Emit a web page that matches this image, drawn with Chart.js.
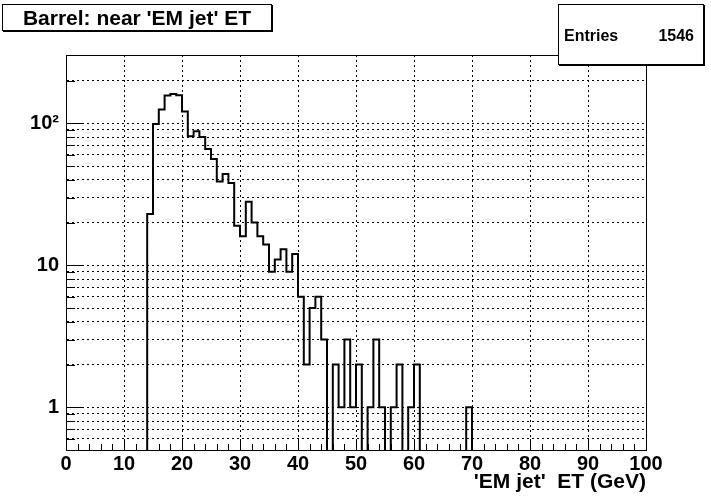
<!DOCTYPE html>
<html>
<head>
<meta charset="utf-8">
<title>Barrel: near 'EM jet' ET</title>
<script src="https://cdn.jsdelivr.net/npm/chart.js@4.4.1/dist/chart.umd.min.js"></script>
<style>
    body { margin: 0; background: #fff; }
    #wrap { position: relative; width: 711px; height: 500px; }
    #histo { display: block; }
    .pave {
        position: absolute;
        background: #fff;
        border: 1px solid #000;
        box-shadow: 1px 1px 0 #000;
        font-family: 'Liberation Sans', Arial, sans-serif;
        font-weight: bold;
        color: #000;
        box-sizing: border-box;
    }
    #title { left: 2px; top: 4px; width: 270px; height: 27px; font-size: 21px; line-height: 25px; text-align: center; }
    #stats { left: 558px; top: 4px; width: 146px; height: 61px; font-size: 16px; }
    #stats span { position: absolute; top: 22px; }
</style>
</head>
<body>
<div id="wrap">
    <canvas id="histo" width="711" height="500"></canvas>
    <div class="pave" id="title">Barrel: near 'EM jet' ET</div>
    <div class="pave" id="stats"><span style="left:5px">Entries</span><span style="right:9px">1546</span></div>
</div>
<script>
// histogram binning
const xMin = 0;
const xMax = 100;
const binWidth = 1;

// bin contents, one per 1 GeV bin from 0 to 100
const counts = [
    0, 0, 0, 0, 0, 0, 0, 0, 0, 0,
    0, 0, 0, 0, 23, 99, 125, 157, 161, 158,
    121, 81, 88, 80, 66, 56, 39, 44, 38, 19,
    16, 28, 20, 16, 14, 9, 11, 13, 9, 12,
    6, 2, 5, 6, 3, 0, 2, 1, 3, 1,
    2, 0, 1, 3, 1, 0, 1, 2, 0, 1,
    2, 0, 0, 0, 0, 0, 0, 0, 0, 1,
    0, 0, 0, 0, 0, 0, 0, 0, 0, 0,
    0, 0, 0, 0, 0, 0, 0, 0, 0, 0,
    0, 0, 0, 0, 0, 0, 0, 0, 0, 0
];

// axis ranges and ticks
const yMin = 0.5;
const yMax = 303;
const xMajorTicks = [0, 10, 20, 30, 40, 50, 60, 70, 80, 90, 100];
const xMinorTicks = [2, 4, 6, 8, 12, 14, 16, 18, 22, 24, 26, 28, 32, 34, 36, 38, 42, 44, 46, 48,
    52, 54, 56, 58, 62, 64, 66, 68, 72, 74, 76, 78, 82, 84, 86, 88, 92, 94, 96, 98];
const yTickValues = [0.6, 0.7, 0.8, 0.9, 1, 2, 3, 4, 5, 6, 7, 8, 9,
    10, 20, 30, 40, 50, 60, 70, 80, 90, 100, 200];
const yMajorTicks = [1, 10, 100];
const yTickLabels = ['1', '10', '10\u00b2'];
const xTitle = "'EM jet'  ET (GeV)";

// empty bins go below the log axis and get clipped, like ROOT draws them
const emptyLevel = 0.05;
const points = counts.map((c, i) => ({ x: xMin + i * binWidth, y: c > 0 ? c : emptyLevel }));
points.push({ x: xMax, y: emptyLevel });

const FONT = "'Liberation Sans', Arial, sans-serif";

// ROOT style frame with ticks pointing inwards
const frameTicks = {
    id: 'frameTicks',
    afterDraw(chart) {
        const { ctx, chartArea: a, scales: { x, y } } = chart;
        ctx.save();
        ctx.strokeStyle = '#000';
        ctx.lineWidth = 1;
        ctx.beginPath();
        xMajorTicks.forEach(v => {
            const px = Math.round(x.getPixelForValue(v)) + 0.5;
            ctx.moveTo(px, a.bottom);
            ctx.lineTo(px, a.bottom - 11);
        });
        xMinorTicks.forEach(v => {
            const px = Math.round(x.getPixelForValue(v)) + 0.5;
            ctx.moveTo(px, a.bottom);
            ctx.lineTo(px, a.bottom - 6);
        });
        yTickValues.forEach(v => {
            const py = Math.round(y.getPixelForValue(v)) + 0.5;
            const len = yMajorTicks.includes(v) ? 17 : 9;
            ctx.moveTo(a.left, py);
            ctx.lineTo(a.left + len, py);
        });
        ctx.stroke();
        ctx.strokeRect(Math.round(a.left) + 0.5, Math.round(a.top) + 0.5,
            Math.round(a.right - a.left), Math.round(a.bottom - a.top));
        ctx.restore();
    }
};

const ctx = document.getElementById('histo').getContext('2d');
new Chart(ctx, {
    type: 'line',
    data: {
        datasets: [{
            data: points,
            stepped: 'before',
            borderColor: '#000',
            borderWidth: 2,
            pointRadius: 0,
            fill: false,
            tension: 0
        }]
    },
    options: {
        responsive: false,
        animation: false,
        events: [],
        layout: { padding: { left: 0, top: 55, right: 65, bottom: 0 } },
        plugins: {
            legend: { display: false },
            tooltip: { enabled: false }
        },
        scales: {
            x: {
                type: 'linear',
                min: xMin,
                max: xMax,
                afterFit: s => { s.height = 50; },
                afterBuildTicks: s => { s.ticks = xMajorTicks.map(v => ({ value: v })); },
                grid: { color: '#000', lineWidth: 1, drawTicks: false },
                border: { display: true, color: '#000', width: 1, dash: [2, 3] },
                ticks: {
                    color: '#000',
                    padding: 2,
                    autoSkip: false,
                    maxRotation: 0,
                    font: { family: FONT, size: 20, weight: 'bold' }
                },
                title: {
                    display: true,
                    text: xTitle,
                    align: 'end',
                    color: '#000',
                    padding: { top: 0, bottom: 5 },
                    font: { family: FONT, size: 21, weight: 'bold' }
                }
            },
            y: {
                type: 'logarithmic',
                min: yMin,
                max: yMax,
                afterFit: s => { s.width = 66; },
                afterBuildTicks: s => { s.ticks = yTickValues.map(v => ({ value: v })); },
                grid: { color: '#000', lineWidth: 1, drawTicks: false },
                border: { display: true, color: '#000', width: 1, dash: [2, 3] },
                ticks: {
                    color: '#000',
                    padding: 7,
                    autoSkip: false,
                    font: { family: FONT, size: 20, weight: 'bold' },
                    callback: v => {
                        const k = yMajorTicks.indexOf(v);
                        return k >= 0 ? yTickLabels[k] : '';
                    }
                }
            }
        }
    },
    plugins: [frameTicks]
});
</script>
</body>
</html>
